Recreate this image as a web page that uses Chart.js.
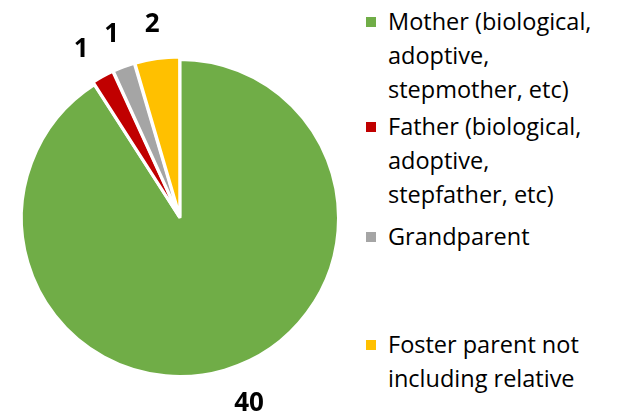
<!DOCTYPE html>
<html>
<head>
<meta charset="utf-8">
<script src="https://cdn.jsdelivr.net/npm/chart.js@4"></script>
<style>
  html, body { margin: 0; padding: 0; background: #fff; }
  #wrap { position: relative; width: 619px; height: 418px; }
  #pie { position: absolute; left: 0; top: 0; width: 360px; height: 418px; }
  .leg { position: absolute; left: 366px; font-family: 'Open Sans', sans-serif; font-size: 23.5px; line-height: 34px; color: #000; }
  .leg i { position: absolute; left: 0; top: 13px; width: 10px; height: 10px; }
  .leg span { display: block; margin-left: 22px; white-space: nowrap; }
</style>
</head>
<body>
<div id="wrap">
  <div id="pie"><canvas id="c"></canvas></div>
  <div id="legend"></div>
</div>
<script>
'use strict';

// ── Data ──
const labels = [
  'Mother (biological, adoptive, stepmother, etc)',
  'Father (biological, adoptive, stepfather, etc)',
  'Grandparent',
  'Foster parent not including relative',
];
const legendLines = [
  ['Mother (biological,', 'adoptive,', 'stepmother, etc)'],
  ['Father (biological,', 'adoptive,', 'stepfather, etc)'],
  ['Grandparent'],
  ['Foster parent not', 'including relative'],
];
const values = [40, 1, 1, 2];
const colors = ['#70AD47', '#C00000', '#A5A5A5', '#FFC000'];

// ── Legend (HTML, wrapped like the original) ──
const legendTops = [4, 109, 219, 327];
const legend = document.getElementById('legend');
legendLines.forEach((lines, i) => {
  const d = document.createElement('div');
  d.className = 'leg';
  d.style.top = legendTops[i] + 'px';
  d.innerHTML = '<i style="background:' + colors[i] + '"></i>' +
    lines.map((l) => '<span>' + l + '</span>').join('');
  legend.appendChild(d);
});

// ── Value labels outside slices ──
const outsideLabels = {
  id: 'outsideLabels',
  afterDatasetsDraw(chart) {
    const ctx = chart.ctx;
    const meta = chart.getDatasetMeta(0);
    ctx.save();
    ctx.font = "bold 26px 'Open Sans', sans-serif";
    ctx.fillStyle = '#000';
    ctx.textAlign = 'center';
    ctx.textBaseline = 'middle';
    meta.data.forEach((arc, i) => {
      const mid = (arc.startAngle + arc.endAngle) / 2 + (i === 0 ? -0.07 : i === 1 ? -0.03 : 0);
      const r = arc.outerRadius + (i === 0 ? 40 : 37);
      const x = arc.x + Math.cos(mid) * r;
      const y = arc.y + Math.sin(mid) * r;
      ctx.fillText(String(values[i]), x, y);
    });
    ctx.restore();
  },
};

new Chart(document.getElementById('c'), {
  type: 'pie',
  data: {
    labels: labels,
    datasets: [{
      data: values,
      backgroundColor: colors,
      borderColor: '#fff',
      borderWidth: 3,
      offset: [0, 6, 6, 6],
    }],
  },
  options: {
    responsive: true, maintainAspectRatio: false,
    animation: false,
    layout: { padding: { left: 17, right: 17, top: 55, bottom: 37 } },
    plugins: {
      legend: { display: false },
      tooltip: { enabled: false },
    },
  },
  plugins: [outsideLabels],
});
</script>
</body>
</html>
